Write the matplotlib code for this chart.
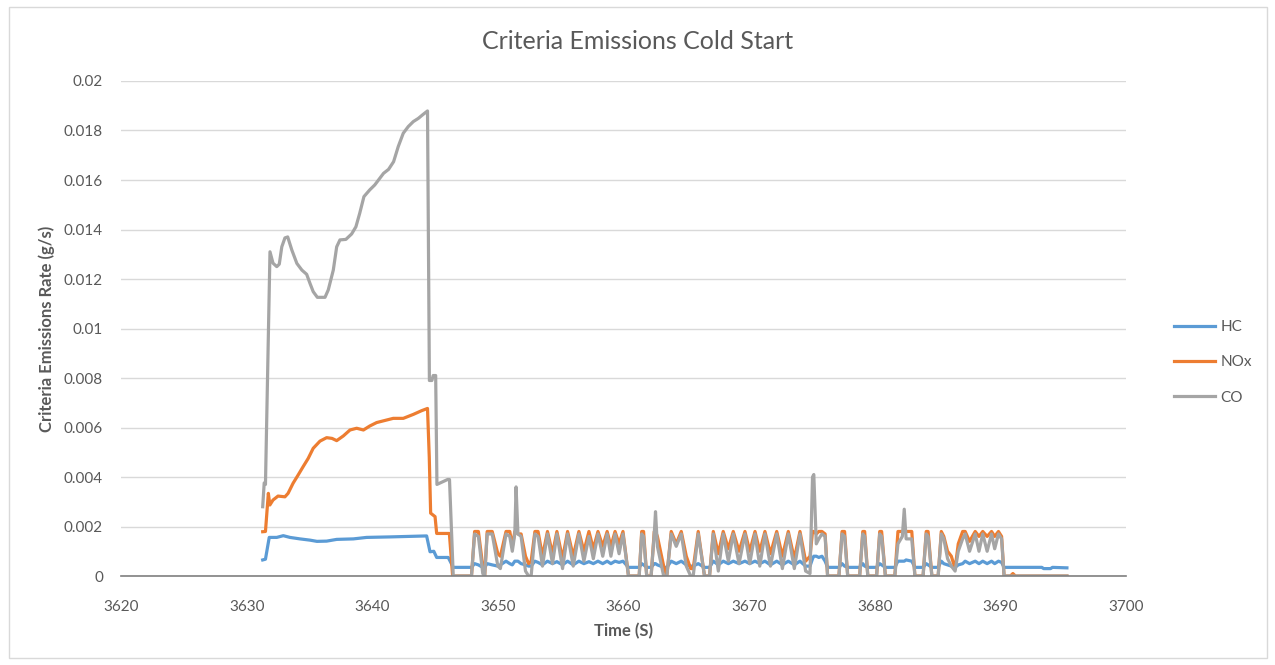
import numpy as np
import matplotlib
matplotlib.use("Agg")
import matplotlib.pyplot as plt
from matplotlib.patches import Rectangle

# --- data ---
# first part (engine warm-up), each series has its own breakpoints
t_hc_early = [3631.28, 3631.5, 3631.8, 3632.4, 3632.92, 3633.45, 3634.25, 3635.04, 3635.6,
              3636.37, 3637.17, 3638.5, 3639.55, 3641.4, 3644.33, 3644.6, 3644.9, 3645.13,
              3646.05, 3646.45]
hc_early = [0.00065, 0.00068, 0.00156, 0.00156, 0.00163, 0.00156, 0.0015, 0.00145, 0.0014,
            0.00141, 0.00148, 0.0015, 0.00156, 0.00158, 0.00162, 0.00098, 0.001, 0.00075,
            0.00075, 0.00035]

t_nox_early = [3631.28, 3631.5, 3631.73, 3631.85, 3632.1, 3632.5, 3633.05, 3633.3, 3633.7,
               3634.1, 3634.5, 3634.9, 3635.3, 3635.84, 3636.37, 3636.8, 3637.17, 3637.7,
               3638.23, 3638.76, 3639.3, 3639.8, 3640.35, 3641.14, 3641.67, 3642.47, 3643.27,
               3643.93, 3644.4, 3644.54, 3644.65, 3645.0, 3645.13, 3646.14, 3646.4]
nox_early = [0.00179, 0.0018, 0.00334, 0.00287, 0.00307, 0.00323, 0.0032, 0.00334, 0.00375,
             0.00408, 0.00442, 0.00475, 0.00516, 0.00545, 0.00559, 0.00556, 0.00547, 0.00566,
             0.0059, 0.00597, 0.0059, 0.00606, 0.0062, 0.0063, 0.00637, 0.00637, 0.00653,
             0.00668, 0.00677, 0.0048, 0.00254, 0.0024, 0.00172, 0.00172, 0.0]

t_co_early = [3631.28, 3631.4, 3631.5, 3631.86, 3632.1, 3632.4, 3632.6, 3632.8, 3633.05,
              3633.27, 3633.6, 3634.0, 3634.4, 3634.78, 3635.04, 3635.3, 3635.63, 3636.24,
              3636.5, 3636.9, 3637.17, 3637.43, 3637.9, 3638.36, 3638.7, 3639.0, 3639.34,
              3639.8, 3640.2, 3640.5, 3640.9, 3641.3, 3641.7, 3642.07, 3642.47, 3642.87,
              3643.27, 3643.67, 3644.0, 3644.4, 3644.55, 3644.75, 3644.85, 3645.05, 3645.15,
              3646.0, 3646.15, 3646.45]
co_early = [0.0028, 0.00376, 0.0037, 0.0131, 0.01264, 0.0125, 0.0126, 0.0133, 0.01366,
            0.0137, 0.01317, 0.01263, 0.01236, 0.01219, 0.01183, 0.01149, 0.01126, 0.01126,
            0.01156, 0.01236, 0.0133, 0.01358, 0.0136, 0.01382, 0.01411, 0.01465, 0.01533,
            0.0156, 0.0158, 0.016, 0.01627, 0.01643, 0.01674, 0.01735, 0.01789, 0.01816,
            0.01836, 0.01849, 0.01863, 0.01879, 0.0079, 0.0079, 0.0081, 0.0081, 0.0037,
            0.0039, 0.0039, 0.0]

# stop-and-go part, shared breakpoints
t_pulse = [3646.5, 3647.9, 3648.15, 3648.45, 3648.8, 3648.95, 3649.15, 3649.55, 3650.0, 3650.2,
           3650.65, 3650.95, 3651.15, 3651.35, 3651.45, 3651.6, 3651.85, 3652.2, 3652.45, 3652.65,
           3652.95, 3653.2, 3653.55, 3653.95, 3654.35, 3654.7, 3655.15, 3655.55, 3656.0, 3656.45,
           3656.85, 3657.25, 3657.6, 3657.97, 3658.35, 3658.7, 3659.0, 3659.33, 3659.65, 3659.96,
           3660.4, 3661.25, 3661.45, 3661.6, 3661.85, 3662.2, 3662.45, 3662.55, 3662.7, 3663.2,
           3663.45, 3663.8, 3664.2, 3664.6, 3665.0, 3665.35, 3665.55, 3665.95, 3666.45, 3666.85,
           3667.15, 3667.55, 3667.94, 3668.35, 3668.74, 3669.2, 3669.67, 3670.05, 3670.47, 3670.85,
           3671.26, 3671.7, 3672.2, 3672.65, 3673.12, 3673.6, 3674.05, 3674.5, 3674.85, 3675.05,
           3675.15, 3675.35, 3675.55, 3675.8, 3676.05, 3676.25, 3677.15, 3677.4, 3677.6, 3677.85,
           3678.8, 3679.05, 3679.2, 3679.45, 3680.15, 3680.4, 3680.55, 3680.85, 3681.6, 3681.85,
           3682.2, 3682.35, 3682.5, 3682.95, 3683.2, 3683.85, 3684.1, 3684.25, 3684.55, 3685.05,
           3685.3, 3685.5, 3685.8, 3686.1, 3686.4, 3686.65, 3687.0, 3687.2, 3687.55, 3688.0,
           3688.3, 3688.6, 3688.95, 3689.3, 3689.55, 3689.85, 3690.1, 3690.3, 3690.8, 3691.0,
           3691.2, 3693.3, 3693.45, 3694.0, 3694.15, 3695.3]
nox_pulse = [0.0, 0.0, 0.0018, 0.0018, 0.0004, 0.0, 0.0018, 0.0018, 0.0009, 0.0008,
             0.0018, 0.0018, 0.0012, 0.0018, 0.0018, 0.0017, 0.0017, 0.0008, 0.0005, 0.0006,
             0.0018, 0.0018, 0.0008, 0.0018, 0.0009, 0.0018, 0.0007, 0.0018, 0.0008, 0.0018,
             0.001, 0.0018, 0.0011, 0.0018, 0.0012, 0.0018, 0.0012, 0.0018, 0.0013, 0.0018,
             0.0, 0.0, 0.0018, 0.0018, 0.0, 0.0, 0.0018, 0.0018, 0.0016, 0.0004,
             0.0, 0.0018, 0.0013, 0.0018, 0.0008, 0.0003, 0.0003, 0.0018, 0.0, 0.0,
             0.0018, 0.0009, 0.0018, 0.0011, 0.0018, 0.001, 0.0018, 0.001, 0.0018, 0.001,
             0.0018, 0.0009, 0.0018, 0.0008, 0.0018, 0.0007, 0.0018, 0.0006, 0.0008, 0.0018,
             0.0018, 0.0017, 0.0018, 0.0018, 0.0017, 0.0, 0.0, 0.0018, 0.0018, 0.0,
             0.0, 0.0018, 0.0018, 0.0, 0.0, 0.0018, 0.0018, 0.0, 0.0, 0.0018,
             0.0018, 0.0018, 0.0018, 0.0018, 0.0, 0.0, 0.0018, 0.0018, 0.0, 0.0,
             0.0018, 0.0016, 0.001, 0.0008, 0.0003, 0.0013, 0.0018, 0.0018, 0.0014, 0.0018,
             0.0016, 0.0018, 0.0016, 0.0018, 0.0016, 0.0018, 0.0016, 0.0, 0.0, 0.0001,
             0.0, 0.0, 0.0, 0.0, 0.0, 0.0]
co_pulse = [0.0, 0.0, 0.0017, 0.0016, 0.0001, 0.0, 0.0017, 0.0017, 0.0004, 0.0003,
            0.0017, 0.0016, 0.001, 0.0017, 0.0036, 0.0017, 0.0016, 0.0002, 0.0, 0.0,
            0.0017, 0.0016, 0.0004, 0.0017, 0.0005, 0.0017, 0.0003, 0.0017, 0.0004, 0.0017,
            0.0006, 0.0016, 0.0007, 0.0017, 0.0008, 0.0017, 0.0008, 0.0017, 0.0009, 0.0017,
            0.0, 0.0, 0.0017, 0.0016, 0.0, 0.0, 0.0017, 0.0026, 0.0012, 0.0,
            0.0, 0.0017, 0.0012, 0.0017, 0.0004, 0.0, 0.0, 0.0017, 0.0, 0.0,
            0.0017, 0.0002, 0.0017, 0.0006, 0.0017, 0.0005, 0.0017, 0.0005, 0.0017, 0.0004,
            0.0017, 0.0004, 0.0017, 0.0003, 0.0017, 0.0003, 0.0017, 0.0002, 0.0001, 0.004,
            0.0041, 0.0013, 0.0015, 0.0017, 0.0016, 0.0, 0.0, 0.0017, 0.0016, 0.0,
            0.0, 0.0017, 0.0016, 0.0, 0.0, 0.0017, 0.0016, 0.0, 0.0, 0.0013,
            0.0016, 0.0027, 0.0015, 0.0015, 0.0, 0.0, 0.0017, 0.0016, 0.0, 0.0,
            0.0017, 0.0015, 0.0007, 0.0004, 0.0002, 0.001, 0.0015, 0.0017, 0.001, 0.0017,
            0.001, 0.0017, 0.001, 0.0017, 0.0011, 0.0017, 0.0015, 0.0, 0.0, 0.0,
            0.0, 0.0, 0.0, 0.0, 0.0, 0.0]
hc_pulse = [0.00035, 0.00035, 0.0005, 0.00045, 0.00035, 0.00035, 0.0005, 0.00045, 0.0004, 0.00045,
            0.0006, 0.0005, 0.00045, 0.0006, 0.0006, 0.0006, 0.0005, 0.00045, 0.0004, 0.0004,
            0.0006, 0.00055, 0.00045, 0.0006, 0.0005, 0.00058, 0.00045, 0.0006, 0.00045, 0.0006,
            0.0005, 0.00058, 0.0005, 0.0006, 0.0005, 0.0006, 0.0005, 0.0006, 0.00055, 0.0006,
            0.00035, 0.00035, 0.0005, 0.00045, 0.00035, 0.00035, 0.0005, 0.0005, 0.00045, 0.00035,
            0.00035, 0.0006, 0.0005, 0.0006, 0.00045, 0.0004, 0.0004, 0.0005, 0.00035, 0.00035,
            0.0006, 0.00045, 0.0006, 0.0005, 0.0006, 0.0005, 0.0006, 0.0005, 0.0006, 0.0005,
            0.0006, 0.00045, 0.0006, 0.00045, 0.0006, 0.00045, 0.0006, 0.0004, 0.0004, 0.0007,
            0.0008, 0.0008, 0.00075, 0.0008, 0.0006, 0.00035, 0.00035, 0.0005, 0.0004, 0.00035,
            0.00035, 0.0005, 0.0004, 0.00035, 0.00035, 0.0005, 0.00045, 0.00035, 0.00035, 0.0006,
            0.0006, 0.0006, 0.00065, 0.0006, 0.00035, 0.00035, 0.0005, 0.00045, 0.00035, 0.00035,
            0.0006, 0.0005, 0.00045, 0.0004, 0.00035, 0.00045, 0.0005, 0.0006, 0.0005, 0.0006,
            0.0005, 0.0006, 0.0005, 0.0006, 0.0005, 0.0006, 0.00055, 0.00035, 0.00035, 0.00035,
            0.00035, 0.00035, 0.0003, 0.0003, 0.00035, 0.00033]

t_hc = np.concatenate([t_hc_early, t_pulse])
hc = np.concatenate([hc_early, hc_pulse])
t_nox = np.concatenate([t_nox_early, t_pulse])
nox = np.concatenate([nox_early, nox_pulse])
t_co = np.concatenate([t_co_early, t_pulse])
co = np.concatenate([co_early, co_pulse])

txt_col = "#595959"
plt.rcParams["font.family"] = ["Lato", "DejaVu Sans"]

fig = plt.figure(figsize=(12.75, 6.65), dpi=100)
fig.patches.append(Rectangle((0.007, 0.01), 0.987, 0.98, transform=fig.transFigure,
                             fill=False, edgecolor="#D9D9D9", linewidth=1.0))
ax = fig.add_axes([0.0949, 0.1338, 0.7882, 0.7444])

ax.plot(t_hc, hc, color="#5B9BD5", lw=2.3, label="HC", solid_joinstyle="round")
ax.plot(t_nox, nox, color="#ED7D31", lw=2.3, label="NOx", solid_joinstyle="round")
ax.plot(t_co, co, color="#A5A5A5", lw=2.3, label="CO", solid_joinstyle="round")

ax.set_xlim(3620, 3700)
ax.set_ylim(0, 0.02)
ax.set_xticks(np.arange(3620, 3701, 10))
yt = np.arange(0, 0.0201, 0.002)
ax.set_yticks(yt)
ax.set_yticklabels(["0"] + ["%g" % round(v, 3) for v in yt[1:]])
ax.tick_params(length=0, labelsize=11, colors=txt_col)
ax.tick_params(axis="x", pad=17)
ax.tick_params(axis="y", pad=13)
ax.grid(axis="y", color="#D9D9D9", lw=1)
ax.set_axisbelow(True)
for s in ["top", "right", "left"]:
    ax.spines[s].set_visible(False)
ax.spines["bottom"].set_color("#7F7F7F")
ax.spines["bottom"].set_linewidth(1.2)

ax.set_xlabel("Time (S)", fontsize=12, fontweight="bold", color=txt_col, labelpad=7)
ax.set_ylabel("Criteria Emissions Rate (g/s)", fontsize=12, fontweight="bold", color=txt_col, labelpad=6)
fig.text(0.5, 0.938, "Criteria Emissions Cold Start", ha="center", va="center",
         fontsize=18, color=txt_col)

leg = ax.legend(loc="center left", bbox_to_anchor=(0.91, 0.455), bbox_transform=fig.transFigure,
                frameon=False, fontsize=11, handlelength=2.7, handletextpad=0.35, labelspacing=1.4)
for text in leg.get_texts():
    text.set_color(txt_col)

fig.savefig("out.png", dpi=100)
